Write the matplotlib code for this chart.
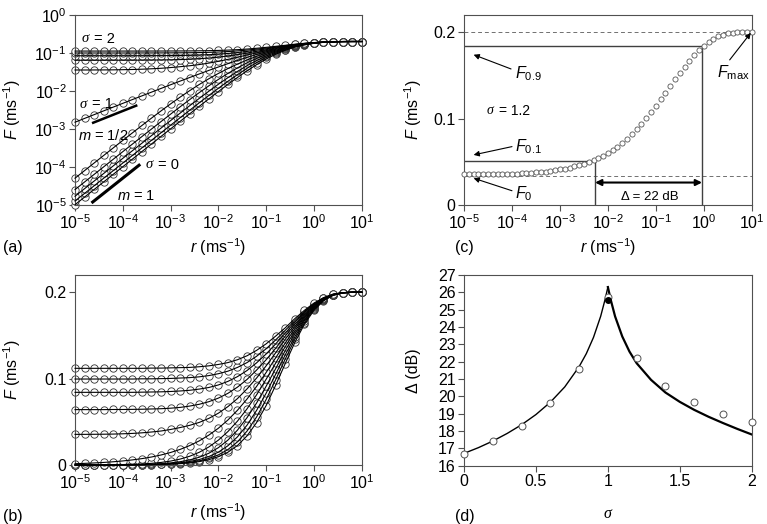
import numpy as np
import matplotlib
matplotlib.use('Agg')
import matplotlib.pyplot as plt

plt.rcParams['font.family'] = ['Liberation Sans', 'DejaVu Sans']
plt.rcParams['mathtext.fontset'] = 'custom'
plt.rcParams['mathtext.rm'] = 'Liberation Sans'
plt.rcParams['mathtext.it'] = 'Liberation Sans:italic'
plt.rcParams['mathtext.bf'] = 'Liberation Sans:bold'
plt.rcParams['axes.edgecolor'] = '#505050'
plt.rcParams['xtick.color'] = '#505050'
plt.rcParams['ytick.color'] = '#505050'
plt.rcParams['xtick.labelcolor'] = 'black'
plt.rcParams['ytick.labelcolor'] = 'black'

# ---- panels (a) and (b): response curves F(r) for sigma = 0 ... 2 ----
# log10 of the stimulus rate r (ms^-1)
r_exp = [-5.0, -4.8, -4.6, -4.4, -4.2, -4.0, -3.8, -3.6, -3.4, -3.2, -3.0,
         -2.8, -2.6, -2.4, -2.2, -2.0, -1.8, -1.6, -1.4, -1.2, -1.0,
         -0.8, -0.6, -0.4, -0.2, 0.0, 0.2, 0.4, 0.6, 0.8, 1.0]

sigmas = [0.0, 0.2, 0.4, 0.6, 0.8, 1.0, 1.2, 1.4, 1.6, 1.8, 2.0]

# F (ms^-1), stored as -1000*log10(F)
F_s00 = [5000, 4800, 4600, 4400, 4200, 4000, 3800, 3600, 3401, 3201, 3002, 2803, 2605, 2408, 2212, 2019,
         1830, 1647, 1472, 1309, 1162, 1034, 930, 848, 788, 747, 721, 707, 701, 699, 699]
F_s02 = [4903, 4703, 4503, 4303, 4103, 3903, 3704, 3504, 3304, 3105, 2906, 2708, 2511, 2315, 2122, 1932,
         1748, 1572, 1406, 1255, 1120, 1005, 911, 837, 783, 744, 720, 706, 701, 699, 699]
F_s04 = [4778, 4578, 4378, 4178, 3978, 3779, 3579, 3380, 3180, 2982, 2784, 2587, 2391, 2199, 2010, 1827,
         1652, 1487, 1336, 1199, 1080, 978, 894, 828, 777, 742, 719, 706, 700, 699, 699]
F_s06 = [4602, 4402, 4202, 4003, 3803, 3603, 3404, 3205, 3007, 2810, 2614, 2420, 2231, 2046, 1867, 1698,
         1540, 1394, 1261, 1144, 1040, 952, 878, 818, 773, 740, 718, 706, 700, 699, 699]
F_s08 = [4302, 4102, 3902, 3703, 3504, 3306, 3109, 2913, 2719, 2529, 2344, 2165, 1994, 1832, 1681, 1541,
         1412, 1294, 1187, 1090, 1003, 928, 863, 810, 768, 738, 717, 705, 700, 699, 699]
F_s10 = [2826, 2726, 2627, 2527, 2428, 2329, 2230, 2132, 2034, 1936, 1839, 1743, 1648, 1554, 1461, 1371,
         1283, 1198, 1117, 1041, 970, 906, 850, 802, 764, 736, 716, 705, 700, 699, 699]
F_s12 = [1450, 1450, 1449, 1448, 1446, 1442, 1437, 1429, 1418, 1405, 1386, 1363, 1338, 1307, 1268, 1222,
         1170, 1114, 1055, 997, 940, 886, 837, 795, 760, 734, 715, 705, 700, 699, 699]
F_s14 = [1193, 1193, 1193, 1193, 1192, 1192, 1191, 1190, 1188, 1186, 1182, 1176, 1166, 1153, 1135, 1111,
         1081, 1045, 1004, 959, 914, 869, 826, 788, 757, 732, 715, 705, 700, 699, 699]
F_s16 = [1075, 1075, 1075, 1075, 1075, 1075, 1075, 1074, 1073, 1072, 1070, 1067, 1063, 1056, 1047, 1033,
         1014, 990, 961, 927, 891, 853, 816, 782, 753, 730, 714, 704, 700, 699, 699]
F_s18 = [1002, 1002, 1002, 1002, 1002, 1002, 1002, 1001, 1001, 1000, 999, 997, 995, 991, 985, 976,
         964, 947, 926, 900, 871, 839, 807, 777, 750, 729, 713, 704, 700, 699, 699]
F_s20 = [951, 951, 951, 951, 951, 951, 951, 951, 950, 950, 949, 948, 947, 944, 940, 934,
         926, 914, 898, 877, 853, 826, 799, 771, 747, 727, 713, 704, 700, 699, 699]

curves = [F_s00, F_s02, F_s04, F_s06, F_s08, F_s10, F_s12, F_s14, F_s16, F_s18, F_s20]

# ---- panel (c): sigma = 1.2 on a finer grid ----
r_exp_c = [-5.0, -4.9, -4.8, -4.7, -4.6, -4.5, -4.4, -4.3, -4.2, -4.1, -4.0, -3.9, -3.8, -3.7, -3.6,
           -3.5, -3.4, -3.3, -3.2, -3.1, -3.0, -2.9, -2.8, -2.7, -2.6, -2.5, -2.4, -2.3, -2.2, -2.1,
           -2.0, -1.9, -1.8, -1.7, -1.6, -1.5, -1.4, -1.3, -1.2, -1.1, -1.0, -0.9, -0.8, -0.7, -0.6,
           -0.5, -0.4, -0.3, -0.2, -0.1, 0.0, 0.1, 0.2, 0.3, 0.4, 0.5, 0.6, 0.7, 0.8, 0.9, 1.0]
F_c = [1450, 1450, 1450, 1450, 1449, 1449, 1448, 1447, 1446, 1444, 1442, 1440, 1437, 1433, 1429, 1424,
       1418, 1412, 1405, 1396, 1386, 1375, 1363, 1350, 1338, 1324, 1307, 1288, 1268, 1246, 1222, 1196,
       1170, 1142, 1114, 1085, 1055, 1026, 997, 968, 940, 913, 886, 861, 837, 815, 795, 777,
       760, 746, 734, 724, 715, 709, 705, 702, 700, 699, 699, 699, 699]
F0_c, F10_c, F90_c, Fmax_c = 0.034, 0.0506, 0.184, 0.2
r10_c, r90_c = 0.0054, 0.92

# ---- panel (d): dynamic range vs sigma ----
sigma_sim = [0.0, 0.2, 0.4, 0.6, 0.8, 1.0, 1.2, 1.4, 1.6, 1.8, 2.0]
delta_sim = [16.7, 17.4, 18.3, 19.6, 21.6, 25.75, 22.2, 20.6, 19.7, 19.0, 18.5]
sigma_crit, delta_crit = 1.0, 25.55
sigma_mf_lo = [0.0, 0.1, 0.2, 0.3, 0.4, 0.5, 0.6, 0.7, 0.8, 0.85, 0.9, 0.95, 0.98, 1.0]
delta_mf_lo = [16.71, 17.04, 17.42, 17.86, 18.36, 18.95, 19.66, 20.54, 21.71, 22.46, 23.40, 24.62, 25.57, 26.3]
sigma_mf_hi = [1.0, 1.02, 1.05, 1.1, 1.15, 1.2, 1.3, 1.4, 1.5, 1.6, 1.7, 1.8, 1.9, 2.0]
delta_mf_hi = [26.3, 25.56, 24.61, 23.45, 22.58, 21.91, 20.95, 20.22, 19.68, 19.22, 18.82, 18.46, 18.12, 17.8]


def to_F(v):
    return 10 ** (-np.array(v) / 1000.0)


def sigma_text(ax, x, y, rest, size):
    # serif italic sigma followed by upright "= value"
    ax.text(x, y, '\u03c3', fontsize=size, family='Liberation Serif', style='italic', va='center')
    ax.annotate('= ' + rest, xy=(x, y), xytext=(size * 0.85, 0), textcoords='offset points',
                fontsize=size, va='center')


r = 10 ** np.array(r_exp)
r_c = 10 ** np.array(r_exp_c)

fig = plt.figure(figsize=(7.67, 5.24), dpi=100)
ax_a = fig.add_axes([0.0978, 0.6094, 0.3738, 0.3620])
ax_b = fig.add_axes([0.0978, 0.1126, 0.3738, 0.3626])
ax_c = fig.add_axes([0.605, 0.6088, 0.3751, 0.3626])
ax_d = fig.add_axes([0.605, 0.1113, 0.3751, 0.3640])

ms = 5.3
fs = 11.5
decades = [1e-5, 1e-4, 1e-3, 1e-2, 1e-1, 1e0, 1e1]

for ax in (ax_a, ax_b, ax_c, ax_d):
    ax.tick_params(direction='out', length=4, width=0.8, labelsize=fs, pad=2)
    for s in ax.spines.values():
        s.set_linewidth(0.8)

# (a) log-log
for v in curves:
    F = to_F(v)
    ax_a.plot(r, F, 'o', ms=ms, mfc='white', mec='#303030', mew=0.6, zorder=2, clip_on=False)
    ax_a.plot(r, F, '-', color='k', lw=0.8, zorder=3, clip_on=False)
ax_a.set_xscale('log')
ax_a.set_yscale('log')
ax_a.set_xlim(1e-5, 1e1)
ax_a.set_ylim(1e-5, 1e0)
ax_a.set_xticks(decades)
ax_a.set_yticks([1e-5, 1e-4, 1e-3, 1e-2, 1e-1, 1e0])
ax_a.minorticks_off()
ax_a.plot([10 ** -4.62, 10 ** -3.72], [10 ** -2.84, 10 ** -2.39], color='k', lw=1.8, zorder=4)
ax_a.plot([10 ** -4.63, 10 ** -3.66], [10 ** -4.93, 10 ** -3.96], color='k', lw=2.2, zorder=4)
sigma_text(ax_a, 10 ** -4.86, 10 ** -0.63, '2', 10.5)
sigma_text(ax_a, 10 ** -4.9, 10 ** -2.35, '1', 10.5)
sigma_text(ax_a, 10 ** -3.53, 10 ** -3.95, '0', 10.5)
ax_a.text(10 ** -4.93, 10 ** -3.17, r'$m$ = 1/2', fontsize=10.5, va='center')
ax_a.text(10 ** -4.13, 10 ** -4.76, r'$m$ = 1', fontsize=10.5, va='center')

# (b) log-linear
for v in curves:
    F = to_F(v)
    ax_b.plot(r, F, 'o', ms=ms, mfc='white', mec='#303030', mew=0.6, zorder=2, clip_on=False)
    ax_b.plot(r, F, '-', color='k', lw=0.8, zorder=3, clip_on=False)
ax_b.set_xscale('log')
ax_b.set_xlim(1e-5, 1e1)
ax_b.set_ylim(0, 0.22)
ax_b.set_xticks(decades)
ax_b.minorticks_off()
ax_b.set_yticks([0, 0.1, 0.2], ['0', '0.1', '0.2'])

# (c) single curve with the range construction
ax_c.plot(r_c, to_F(F_c), 'o', ms=3.7, mfc='white', mec='#555555', mew=0.6, zorder=3, clip_on=False)
ax_c.set_xscale('log')
ax_c.set_xlim(1e-5, 1e1)
ax_c.set_ylim(0, 0.22)
ax_c.set_xticks(decades)
ax_c.minorticks_off()
ax_c.set_yticks([0, 0.1, 0.2], ['0', '0.1', '0.2'])
ax_c.axhline(Fmax_c, color='#707070', lw=0.7, ls=(0, (4, 3)), zorder=1)
ax_c.axhline(F0_c, color='#707070', lw=0.7, ls=(0, (4, 3)), zorder=1)
ax_c.plot([1e-5, r90_c, r90_c], [F90_c, F90_c, 0], color='#404040', lw=1.0, zorder=2)
ax_c.plot([1e-5, r10_c, r10_c], [F10_c, F10_c, 0], color='#404040', lw=1.0, zorder=2)
ax_c.annotate('', xy=(r90_c, 0.026), xytext=(r10_c, 0.026),
              arrowprops=dict(arrowstyle='<|-|>', color='k', lw=1.5, mutation_scale=9, shrinkA=0, shrinkB=0))
ax_c.text(10 ** -1.12, 0.0089, '\u0394 = 22 dB', fontsize=9.5, ha='center', va='center')
arrow = dict(arrowstyle='-|>', color='k', lw=0.8, mutation_scale=8, shrinkA=0, shrinkB=0)
ax_c.annotate('', xy=(10 ** -4.8, 0.174), xytext=(10 ** -4.02, 0.1575), arrowprops=arrow)
ax_c.text(10 ** -3.93, 0.1525, r'$F_{0.9}$', fontsize=fs, va='center')
ax_c.annotate('', xy=(10 ** -4.8, 0.058), xytext=(10 ** -4.0, 0.0676), arrowprops=arrow)
ax_c.text(10 ** -3.93, 0.0676, r'$F_{0.1}$', fontsize=fs, va='center')
ax_c.annotate('', xy=(10 ** -4.8, 0.031), xytext=(10 ** -4.0, 0.0165), arrowprops=arrow)
ax_c.text(10 ** -3.93, 0.0127, r'$F_0$', fontsize=fs, va='center')
ax_c.annotate('', xy=(10 ** 0.98, 0.1993), xytext=(10 ** 0.54, 0.168), arrowprops=arrow)
ax_c.text(10 ** 0.27, 0.153, r'$F_{\rm max}$', fontsize=fs, va='center')
sigma_text(ax_c, 10 ** -4.52, 0.109, '1.2', 10)

# (d) dynamic range
ax_d.plot(sigma_mf_lo, delta_mf_lo, color='k', lw=1.0, zorder=2)
ax_d.plot(sigma_mf_hi, delta_mf_hi, color='k', lw=1.6, zorder=2)
ax_d.plot(sigma_sim, delta_sim, 'o', ms=5.0, mfc='white', mec='#505050', mew=0.7, ls='none', zorder=3,
          clip_on=False)
ax_d.plot([sigma_crit], [delta_crit], 'o', ms=4.0, color='k', zorder=4)
ax_d.set_xlim(0, 2)
ax_d.set_ylim(16, 27)
ax_d.set_xticks([0, 0.5, 1, 1.5, 2], ['0', '0.5', '1', '1.5', '2'])
ax_d.set_yticks(range(16, 28))

# axis labels placed by hand (axes fractions)
for ax, ylab, yx in ((ax_a, r'$F$ (ms$^{-1}$)', -0.22), (ax_b, r'$F$ (ms$^{-1}$)', -0.22),
                     (ax_c, r'$F$ (ms$^{-1}$)', -0.177), (ax_d, '\u0394 (dB)', -0.177)):
    ax.set_ylabel(ylab, fontsize=fs, va='center')
    ax.yaxis.set_label_coords(yx, 0.5)
for ax, xy in ((ax_a, -0.223), (ax_b, -0.247), (ax_c, -0.223)):
    ax.set_xlabel(r'$r$ (ms$^{-1}$)', fontsize=fs, va='center')
    ax.xaxis.set_label_coords(0.5, xy)
ax_d.set_xlabel('\u03c3', fontsize=fs, va='center', family='Liberation Serif', style='italic')
ax_d.xaxis.set_label_coords(0.5, -0.253)

fig.text(0.004, 0.527, '(a)', fontsize=fs, va='center')
fig.text(0.004, 0.0134, '(b)', fontsize=fs, va='center')
fig.text(0.593, 0.527, '(c)', fontsize=fs, va='center')
fig.text(0.593, 0.0134, '(d)', fontsize=fs, va='center')

fig.savefig('out.png', dpi=100)
